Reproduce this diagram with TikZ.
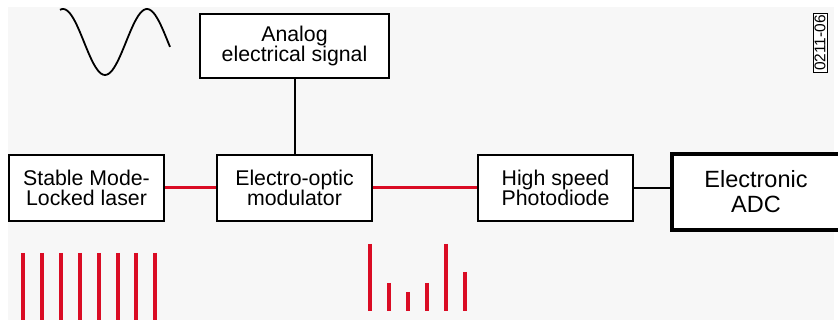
\documentclass[tikz,border=0pt]{standalone}
\usepackage{fontspec}
\setmainfont{Liberation Sans}
\usepackage{tikz}
\usetikzlibrary{positioning, calc}

\definecolor{pulsered}{RGB}{218,12,36}
\definecolor{bggray}{RGB}{247,247,247}

\begin{document}
\begin{tikzpicture}[x=1pt, y=-1pt,
    blk/.style={draw, line width=1.8pt, fill=white, minimum width=155pt, minimum height=66pt, align=center, inner sep=2pt, font=\fontsize{21.3}{20.5}\selectfont},
    adcbox/.style={draw, line width=3.6pt, fill=white, minimum width=168pt, minimum height=76pt, align=center, font=\fontsize{23.5}{25}\selectfont},
    optic/.style={pulsered, line width=3pt},
    elec/.style={black, line width=2pt},
    pulse/.style={pulsered, line width=3.4pt}]
  \path[use as bounding box] (0,0) rectangle (838,320);
  \fill[bggray] (8,7) rectangle (834,320);
  % analog input
  \draw[line width=1.8pt, domain=60:170, samples=60, smooth] plot (\x,{42-33*cos((\x-147)/84*360)});
  \node[blk, minimum width=189pt, minimum height=64pt] (analog) at (294.5,46) {Analog\\electrical signal};
  % chain
  \node[blk] (laser) at (86.5,188) {Stable Mode-\\Locked laser};
  \node[blk] (eom) at (294.5,188) {Electro-optic\\modulator};
  \node[blk] (pd) at (555.5,188) {High speed\\Photodiode};
  \node[adcbox] (adc) at (756,192) {Electronic\\ADC};
  \draw[elec] (analog) -- (eom);
  \draw[optic] (laser) -- (eom);
  \draw[optic] (eom) -- (pd);
  \draw[elec] (pd.east) -- (pd.east -| adc.west);
  % figure tag
  \node[draw, line width=0.8pt, fill=white, rotate=90, inner sep=1.5pt, font=\fontsize{15.5}{15.5}\selectfont] (tag) at (820,43) {0211-06};
  % pulse trains
  \foreach \px in {23,42,61,80,99,118,136,155}
    \draw[pulse] (\px,253) -- (\px,320);
  \foreach \px/\top in {370/244, 389/283, 408/292, 427/283, 446/244, 465/272}
    \draw[pulse] (\px,\top) -- (\px,311);
\end{tikzpicture}
\end{document}
